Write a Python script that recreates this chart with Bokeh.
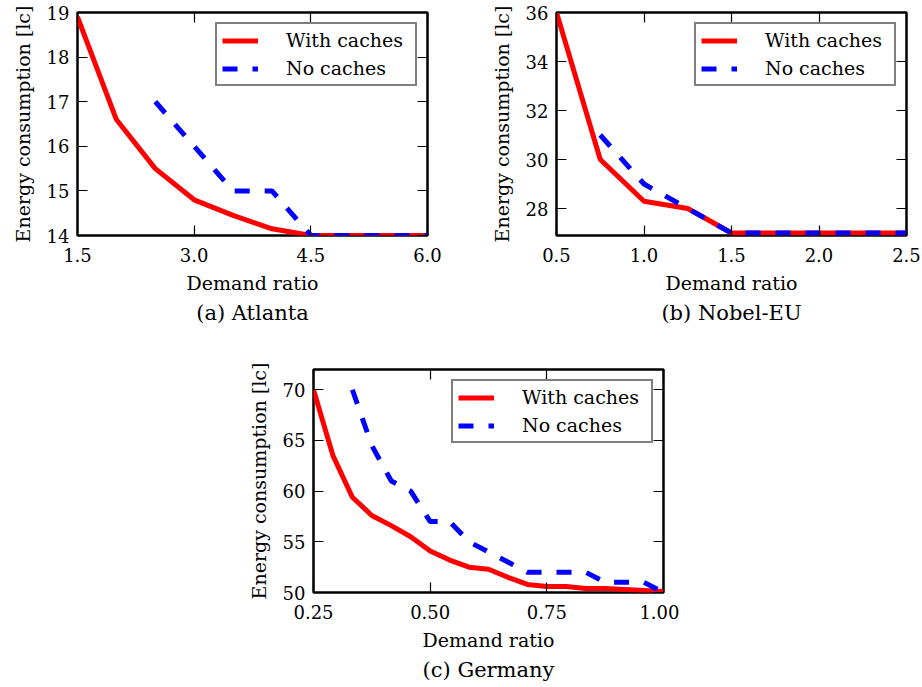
from bokeh.plotting import figure
from bokeh.models import (Range1d, FixedTicker, NumeralTickFormatter, LinearAxis,
                          Title, CustomJSTickFormatter, Spacer)
from bokeh.layouts import column, row
from bokeh.embed import file_html
from bokeh.resources import INLINE

# ---------------- data ----------------
atl_x_with = [1.5, 2.0, 2.5, 3.0, 3.5, 4.0, 4.5, 5.0, 5.5, 6.0]
atl_y_with = [18.9, 16.6, 15.5, 14.8, 14.45, 14.15, 14.0, 14.0, 14.0, 14.0]
atl_x_no = [2.5, 3.0, 3.5, 4.0, 4.5, 5.0, 5.5, 6.0]
atl_y_no = [17.0, 16.0, 15.0, 15.0, 14.0, 14.0, 14.0, 14.0]
atl_xticks = [1.5, 3.0, 4.5, 6.0]
atl_yticks = [14, 15, 16, 17, 18, 19]

nob_x_with = [0.5, 0.75, 1.0, 1.25, 1.5, 1.75, 2.0, 2.25, 2.5]
nob_y_with = [36.0, 30.0, 28.3, 28.0, 27.0, 27.0, 27.0, 27.0, 27.0]
nob_x_no = [0.75, 1.0, 1.25, 1.5, 1.75, 2.0, 2.25, 2.5]
nob_y_no = [31.0, 29.0, 28.0, 27.0, 27.0, 27.0, 27.0, 27.0]
nob_xticks = [0.5, 1.0, 1.5, 2.0, 2.5]
nob_yticks = [28, 30, 32, 34, 36]

ger_x_with = [0.25, 0.2917, 0.3333, 0.375, 0.4167, 0.4583, 0.5, 0.5417, 0.5833, 0.625,
              0.6667, 0.7083, 0.75, 0.7917, 0.8333, 0.875, 0.9167, 0.9583, 1.0]
ger_y_with = [70.0, 63.5, 59.4, 57.6, 56.6, 55.5, 54.1, 53.2, 52.5, 52.3,
              51.5, 50.8, 50.6, 50.6, 50.4, 50.4, 50.3, 50.2, 50.1]
ger_x_no = [0.3333, 0.375, 0.4167, 0.4583, 0.5, 0.5417, 0.5833, 0.625, 0.6667,
            0.7083, 0.75, 0.7917, 0.8333, 0.875, 0.9167, 0.9583, 1.0]
ger_y_no = [70.0, 64.5, 61.0, 60.0, 57.0, 57.0, 55.0, 54.0, 53.0,
            52.0, 52.0, 52.0, 52.0, 51.0, 51.0, 51.0, 50.0]
ger_xticks = [0.25, 0.5, 0.75, 1.0]
ger_yticks = [50, 55, 60, 65, 70]

FONT = "DejaVu Serif"
XLABEL = "Demand ratio"
YLABEL = "Energy consumption [lc]"


def panel(xw, yw, xn, yn, xr, yr, xticks, yticks, xfmt, caption,
          mb_left, mb_right, mb_top, mb_bottom):
    p = figure(frame_width=350, frame_height=223,
               x_range=Range1d(*xr), y_range=Range1d(*yr),
               output_backend="svg", toolbar_location=None,
               min_border_left=mb_left, min_border_right=mb_right,
               min_border_top=mb_top, min_border_bottom=mb_bottom,
               background_fill_color="white", border_fill_color="white",
               outline_line_color="black", outline_line_width=2.5)
    p.grid.visible = False

    p.line(xw, yw, color="#ff0000", line_width=5, legend_label="With caches")
    p.line(xn, yn, color="#0000ff", line_width=5, line_dash="15 15",
           legend_label="No caches")

    p.xaxis.ticker = FixedTicker(ticks=xticks)
    p.yaxis.ticker = FixedTicker(ticks=yticks)
    p.xaxis.formatter = NumeralTickFormatter(format=xfmt)
    p.yaxis.formatter = NumeralTickFormatter(format="0")
    p.xaxis.axis_label = XLABEL
    p.yaxis.axis_label = YLABEL

    for ax in (p.xaxis[0], p.yaxis[0]):
        ax.axis_line_color = None
        ax.major_tick_in = 10
        ax.major_tick_out = 0
        ax.major_tick_line_width = 1.2
        ax.major_tick_line_color = "black"
        ax.minor_tick_line_color = None
        ax.major_label_text_font = FONT
        ax.major_label_text_font_size = "18px"
        ax.major_label_text_color = "black"
        ax.axis_label_text_font = FONT
        ax.axis_label_text_font_size = "19px"
        ax.axis_label_text_font_style = "normal"
        ax.axis_label_text_color = "black"
    p.xaxis.major_label_standoff = 12
    p.xaxis.axis_label_standoff = 7
    p.yaxis.major_label_standoff = 8
    p.yaxis.axis_label_standoff = 10

    for ticks, side in ((xticks, "above"), (yticks, "right")):
        ax = LinearAxis(ticker=FixedTicker(ticks=ticks),
                        formatter=CustomJSTickFormatter(code="return ''"),
                        axis_line_color=None, major_tick_in=10, major_tick_out=0,
                        major_tick_line_width=1.2, major_tick_line_color="black",
                        minor_tick_line_color=None, major_label_standoff=0,
                        major_label_text_font_size="1px")
        p.add_layout(ax, side)

    lg = p.legend[0]
    lg.location = "top_right"
    lg.margin = 10
    lg.padding = 5
    lg.spacing = 6
    lg.glyph_width = 36
    lg.glyph_height = 17
    lg.label_height = 17
    lg.label_width = 124
    lg.label_standoff = 28
    lg.label_text_font = FONT
    lg.label_text_font_size = "19px"
    lg.label_text_color = "black"
    lg.border_line_color = "black"
    lg.border_line_width = 2.5
    lg.background_fill_color = "white"
    lg.background_fill_alpha = 1.0

    p.add_layout(Title(text=caption, align="center", text_font=FONT,
                       text_font_size="21px", text_font_style="normal",
                       text_color="black", standoff=5), "below")
    return p


pa = panel(atl_x_with, atl_y_with, atl_x_no, atl_y_no, (1.5, 6.0), (14, 19),
           atl_xticks, atl_yticks, "0.0", "(a) Atlanta", 77, 60, 12, 105)
pb = panel(nob_x_with, nob_y_with, nob_x_no, nob_y_no, (0.5, 2.5), (26.9, 36),
           nob_xticks, nob_yticks, "0.0", "(b) Nobel-EU", 69, 16, 12, 105)
pc = panel(ger_x_with, ger_y_with, ger_x_no, ger_y_no, (0.25, 1.0), (50, 72),
           ger_xticks, ger_yticks, "0.00", "(c) Germany", 69, 16, 29, 90)

p = column(row(pa, pb), row(Spacer(width=244, height=10), pc))

open("out.html", "w").write(file_html(p, INLINE))
